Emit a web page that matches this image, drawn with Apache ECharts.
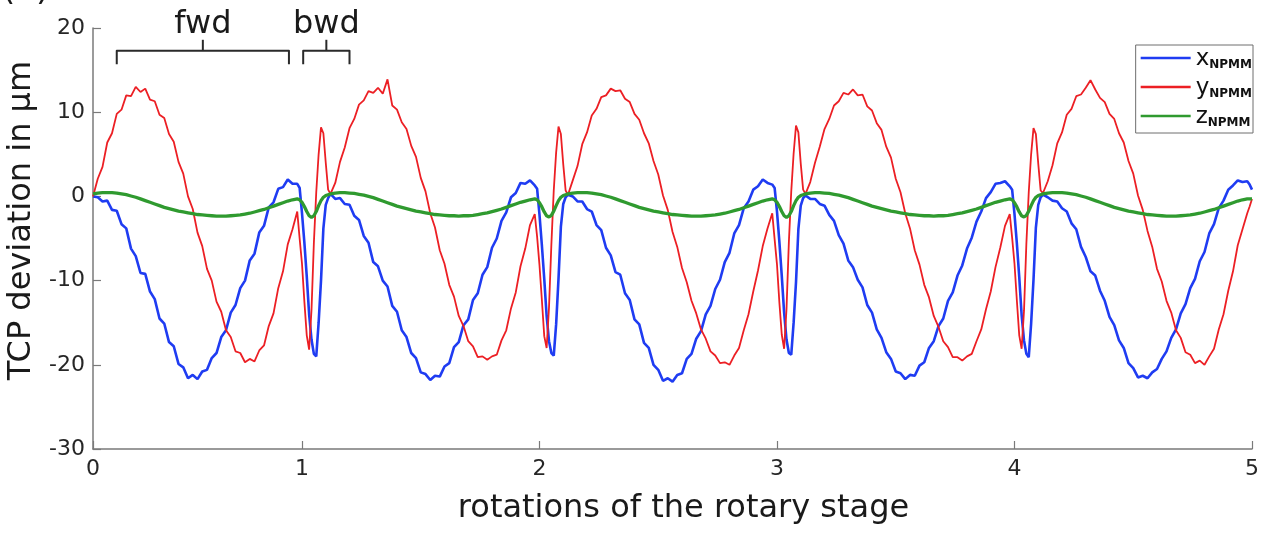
<!DOCTYPE html>
<html>
<head>
<meta charset="utf-8">
<script src="https://cdn.jsdelivr.net/npm/echarts@6/dist/echarts.min.js"></script>
<style>
html,body{margin:0;padding:0;background:#ffffff;}
#chart{width:1265px;height:533px;}
</style>
</head>
<body>
<div id="chart"></div>
<script>
// ---------- data ----------
// start of each rotation cycle
const cycleStarts = [0, 1, 2, 3, 4];
// sample positions inside a cycle (forward part, backward dip, end of last cycle)
const phaseFwd = [0.12,0.14,0.16,0.18,0.20,0.22,0.24,0.26,0.28,0.30,0.32,0.34,0.36,0.38,0.40,0.42,0.44,0.46,0.48,0.50,0.52,0.54,0.56,0.58,0.60,0.62,0.64,0.66,0.68,0.70,0.72,0.74,0.76,0.78,0.80,0.82,0.84,0.86,0.88,0.90,0.92,0.94,0.96,0.98];
const phaseDip = [0.99,1.00,1.01,1.02,1.03,1.04,1.05,1.06,1.07,1.08,1.09,1.10,1.11];
const phaseEnd = [0.99,1.00];

const xAxisMin = 0.12;
const xAxisMax = 5;
const xTickLabels = ['0','1','2','3','4','5'];
const yTicks = [-30, -20, -10, 0, 10, 20];

// x_NPMM (blue)
const xNPMM = [
  // cycle 0
  0,-0.1,-0.6,-0.5,-1.6,-1.7,-3.3,-3.8,-6.2,-7.1,-9.1,-9.2,-11.3,-12.2,-14.5,-15.1,-17.3,-17.8,-19.9,-20.3,-21.6,-21.2,-21.7,-20.8,-20.6,-19.2,-18.6,-16.7,-15.9,-13.8,-12.9,-10.9,-10.0,-7.6,-6.8,-4.3,-3.5,-1.3,-0.7,0.9,1.1,2.0,1.5,1.5,
  1.0,-2.0,-5.5,-9.5,-14.0,-17.0,-18.7,-19.0,-15.0,-10.0,-3.8,-1.0,-0.2,
  // cycle 1
  0.3,-0.3,-0.2,-0.9,-1.0,-2.3,-2.8,-4.7,-5.5,-7.8,-8.3,-10.0,-10.7,-13.0,-13.7,-15.9,-16.7,-18.6,-19.2,-20.9,-21.1,-21.8,-21.3,-21.4,-20.2,-19.8,-17.9,-17.3,-15.3,-14.6,-12.3,-11.5,-9.3,-8.4,-6.1,-5.0,-2.9,-1.9,-0.1,0.4,1.6,1.5,1.9,1.3,
  0.9,-2.2,-5.8,-9.8,-14.2,-17.2,-18.6,-18.9,-15.2,-9.8,-3.6,-0.9,-0.1,
  // cycle 2
  0.2,0.0,-0.6,-0.6,-1.5,-1.8,-3.4,-4.0,-6.1,-7.0,-9.0,-9.3,-11.5,-12.3,-14.6,-15.2,-17.4,-18.0,-20.0,-20.6,-21.9,-21.6,-22.0,-21.2,-21.0,-19.3,-18.7,-16.9,-16.0,-14.0,-13.0,-11.0,-9.9,-7.8,-6.7,-4.4,-3.4,-1.4,-0.6,0.8,1.2,2.0,1.6,1.4,
  1.0,-1.8,-5.4,-9.4,-13.8,-17.0,-18.6,-18.8,-15.0,-10.2,-3.9,-1.1,-0.2,
  // cycle 3
  0.1,-0.3,-0.3,-0.9,-1.1,-2.2,-2.9,-4.6,-5.6,-7.6,-8.4,-9.9,-10.8,-12.9,-13.8,-15.8,-16.8,-18.5,-19.3,-20.8,-21.0,-21.7,-21.2,-21.3,-20.1,-19.7,-18.0,-17.2,-15.4,-14.5,-12.4,-11.4,-9.4,-8.2,-6.2,-4.9,-3.0,-1.8,-0.2,0.5,1.5,1.6,1.8,1.2,
  0.8,-2.1,-5.6,-9.6,-14.1,-17.1,-18.7,-19.1,-15.1,-9.9,-3.7,-1.0,-0.1,
  // cycle 4
  0.2,-0.1,-0.5,-0.6,-1.4,-1.8,-3.2,-3.9,-6.0,-7.2,-8.9,-9.4,-11.2,-12.4,-14.3,-15.3,-17.1,-18.0,-19.8,-20.4,-21.5,-21.3,-21.6,-20.9,-20.5,-19.3,-18.4,-16.8,-15.8,-13.9,-12.8,-10.9,-9.8,-7.7,-6.6,-4.4,-3.3,-1.4,-0.5,0.8,1.3,1.9,1.7,1.8,
  1.4,0.8
];

// y_NPMM (red)
const yNPMM = [
  // cycle 0
  0.0,2.1,3.5,6.4,7.5,9.8,10.3,12.0,11.9,13.0,12.4,12.8,11.5,11.3,9.7,9.3,7.4,6.5,4.1,2.7,0.0,-1.5,-4.3,-5.9,-8.6,-10.0,-12.5,-13.7,-15.9,-16.7,-18.4,-18.6,-19.7,-19.3,-19.6,-18.3,-17.7,-15.4,-13.9,-10.9,-8.9,-5.7,-3.9,-1.8,
  -5.0,-8.0,-12.5,-16.5,-18.2,-13.5,-5.5,0.5,5.0,8.2,7.5,4.0,0.8,
  // cycle 1
  0.3,1.6,4.1,5.8,8.1,9.2,10.9,11.4,12.5,12.3,12.9,12.2,13.9,10.8,10.3,8.8,8.0,6.0,4.7,2.2,0.6,-2.0,-3.7,-6.4,-8.0,-10.5,-11.9,-14.2,-15.4,-17.2,-17.8,-19.1,-19.0,-19.4,-19.0,-18.8,-17.1,-15.9,-13.3,-11.4,-8.3,-6.2,-3.4,-2.1,
  -4.8,-8.2,-12.3,-16.6,-18.0,-13.2,-5.7,0.7,5.2,8.3,7.4,3.8,0.7,
  // cycle 2
  0.2,1.9,3.6,6.2,7.6,9.6,10.4,11.8,12.0,12.8,12.5,12.6,11.6,11.2,9.8,9.1,7.5,6.3,4.2,2.6,0.1,-1.6,-4.2,-6.0,-8.5,-10.2,-12.4,-13.9,-15.8,-16.9,-18.4,-18.9,-19.8,-19.7,-20.0,-18.9,-18.0,-15.9,-14.0,-11.3,-8.8,-5.9,-3.8,-2.0,
  -5.1,-8.1,-12.6,-16.4,-18.1,-13.4,-5.4,0.6,5.1,8.4,7.6,3.9,0.8,
  // cycle 3
  0.3,1.7,4.0,5.9,8.0,9.2,10.8,11.3,12.3,12.1,12.7,12.0,12.1,10.7,10.2,8.7,7.9,5.9,4.6,2.1,0.5,-2.0,-3.8,-6.4,-8.1,-10.5,-12.0,-14.2,-15.5,-17.2,-17.9,-19.1,-19.1,-19.5,-19.0,-18.7,-17.2,-15.8,-13.4,-11.3,-8.4,-6.1,-3.5,-2.1,
  -4.9,-8.0,-12.4,-16.5,-18.1,-13.6,-5.6,0.5,5.0,8.1,7.4,3.9,0.7,
  // cycle 4
  0.4,1.8,3.7,6.3,7.6,9.7,10.4,11.9,12.1,12.9,13.8,12.7,11.7,11.2,9.8,9.2,7.5,6.4,4.2,2.7,0.1,-1.6,-4.1,-6.0,-8.6,-10.1,-12.4,-13.8,-15.9,-16.8,-18.5,-18.8,-19.8,-19.5,-20.0,-19.0,-18.1,-15.8,-14.0,-11.2,-8.9,-5.8,-3.9,-2.0,
  -1.2,-0.3
];

// z_NPMM (green)
const zNPMM = [
  // cycle 0
  0.3,0.4,0.45,0.45,0.45,0.4,0.3,0.2,0.05,-0.1,-0.3,-0.5,-0.7,-0.9,-1.1,-1.3,-1.45,-1.6,-1.75,-1.85,-1.95,-2.05,-2.15,-2.2,-2.25,-2.3,-2.35,-2.35,-2.35,-2.3,-2.25,-2.2,-2.1,-2.0,-1.85,-1.7,-1.55,-1.35,-1.15,-0.95,-0.75,-0.55,-0.4,-0.3,
  -0.4,-0.7,-1.2,-1.8,-2.3,-2.5,-2.3,-1.8,-1.1,-0.5,-0.1,0.1,0.2,
  // cycle 1
  0.3,0.4,0.45,0.45,0.4,0.35,0.25,0.15,0.0,-0.15,-0.35,-0.55,-0.75,-0.95,-1.15,-1.3,-1.45,-1.6,-1.75,-1.85,-1.95,-2.05,-2.15,-2.2,-2.25,-2.3,-2.3,-2.35,-2.3,-2.3,-2.25,-2.15,-2.05,-1.95,-1.8,-1.65,-1.5,-1.3,-1.1,-0.9,-0.7,-0.55,-0.4,-0.3,
  -0.4,-0.75,-1.25,-1.85,-2.3,-2.45,-2.25,-1.75,-1.1,-0.5,-0.1,0.1,0.2,
  // cycle 2
  0.3,0.4,0.45,0.45,0.45,0.4,0.3,0.2,0.05,-0.1,-0.3,-0.5,-0.7,-0.9,-1.1,-1.3,-1.45,-1.6,-1.75,-1.85,-1.95,-2.05,-2.15,-2.2,-2.25,-2.3,-2.35,-2.35,-2.35,-2.3,-2.25,-2.2,-2.1,-2.0,-1.85,-1.7,-1.55,-1.35,-1.15,-0.95,-0.75,-0.55,-0.4,-0.3,
  -0.4,-0.7,-1.2,-1.8,-2.3,-2.5,-2.3,-1.8,-1.1,-0.5,-0.1,0.1,0.2,
  // cycle 3
  0.3,0.4,0.45,0.45,0.4,0.35,0.25,0.15,0.0,-0.15,-0.35,-0.55,-0.75,-0.95,-1.15,-1.3,-1.45,-1.6,-1.75,-1.85,-1.95,-2.05,-2.15,-2.2,-2.25,-2.3,-2.3,-2.35,-2.3,-2.3,-2.25,-2.15,-2.05,-1.95,-1.8,-1.65,-1.5,-1.3,-1.1,-0.9,-0.7,-0.55,-0.4,-0.3,
  -0.4,-0.75,-1.25,-1.85,-2.3,-2.45,-2.25,-1.75,-1.1,-0.5,-0.1,0.1,0.2,
  // cycle 4
  0.3,0.4,0.45,0.45,0.45,0.4,0.3,0.2,0.05,-0.1,-0.3,-0.5,-0.7,-0.9,-1.1,-1.3,-1.45,-1.6,-1.75,-1.85,-1.95,-2.05,-2.15,-2.2,-2.25,-2.3,-2.35,-2.35,-2.35,-2.3,-2.25,-2.2,-2.1,-2.0,-1.85,-1.7,-1.55,-1.35,-1.15,-0.95,-0.75,-0.55,-0.4,-0.3,
  -0.3,-0.3
];

const seriesNames = ['x', 'y', 'z'];
const seriesColors = ['#1f3cf2', '#ec1f24', '#2f9a2f'];

// annotation brackets (x in rotations, levels in µm)
const bracketSpans = [
  {label: 'fwd', from: 0.22, to: 0.945},
  {label: 'bwd', from: 1.005, to: 1.2}
];
const bracketLevels = {hook: 15.7, bar: 17.3, tip: 18.6, text: 20.4};

// ---------- build ----------
const xs = [];
cycleStarts.forEach(function (k, i) {
  const ph = phaseFwd.concat(i < cycleStarts.length - 1 ? phaseDip : phaseEnd);
  ph.forEach(function (p) { xs.push(Math.round((k + p) * 100) / 100); });
});
function pairs(vals) { return vals.map(function (v, i) { return [xs[i], v]; }); }
const seriesValues = [xNPMM, yNPMM, zNPMM];
const lineWidths = [2.6, 1.8, 3.3];

const FONT = '"DejaVu Sans", "Liberation Sans", sans-serif';
const chart = echarts.init(document.getElementById('chart'), null, {renderer: 'canvas'});

const option = {
  animation: false,
  backgroundColor: '#ffffff',
  grid: {left: 93, right: 13, top: 28, bottom: 84, containLabel: false, outerBoundsMode: 'none'},
  xAxis: {
    type: 'value', min: xAxisMin, max: xAxisMax, minInterval: 1, maxInterval: 1,
    name: 'rotations of the rotary stage', nameLocation: 'middle', nameGap: 44,
    nameTextStyle: {fontFamily: FONT, fontSize: 32, color: '#1a1a1a', padding: [0, 0, 0, 22]},
    axisLine: {show: true, onZero: false, lineStyle: {color: '#7a7a7a', width: 1.5}},
    axisTick: {show: true, inside: true, length: 8, lineStyle: {color: '#7a7a7a', width: 1.2}},
    axisLabel: {fontFamily: FONT, fontSize: 22, color: '#262626', margin: 9,
      formatter: function (v) { return v < 0.5 ? xTickLabels[0] : xTickLabels[Math.round(v)]; }},
    splitLine: {show: false}
  },
  yAxis: {
    type: 'value', min: yTicks[0], max: yTicks[yTicks.length - 1], interval: 10,
    name: 'TCP deviation in µm', nameLocation: 'middle', nameGap: 52,
    nameTextStyle: {fontFamily: FONT, fontSize: 32, color: '#1a1a1a', padding: [0, 0, 0, 36]},
    axisLine: {show: true, onZero: false, lineStyle: {color: '#7a7a7a', width: 1.5}},
    axisTick: {show: true, inside: true, length: 8, lineStyle: {color: '#7a7a7a', width: 1.2}},
    axisLabel: {fontFamily: FONT, fontSize: 22, color: '#262626', margin: 8},
    splitLine: {show: false}
  },
  legend: {
    orient: 'vertical', right: 12, top: 45,
    icon: 'rect', itemWidth: 50, itemHeight: 2.5, itemGap: 6,
    backgroundColor: '#ffffff', borderColor: '#6e6e6e', borderWidth: 1,
    padding: [3, 1, 4, 5],
    data: seriesNames,
    formatter: function (n) { return '{m|' + n + '}{s|NPMM}'; },
    textStyle: {
      rich: {
        m: {fontFamily: FONT, fontSize: 23, color: '#111', lineHeight: 26, verticalAlign: 'bottom'},
        s: {fontFamily: FONT, fontSize: 12, fontWeight: 'bold', color: '#111', lineHeight: 11, verticalAlign: 'bottom'}
      }
    }
  },
  series: seriesNames.map(function (n, i) {
    return {
      name: n, type: 'line', data: pairs(seriesValues[i]),
      showSymbol: false, symbol: 'none', smooth: false,
      lineStyle: {color: seriesColors[i], width: lineWidths[i]},
      itemStyle: {color: seriesColors[i]},
      emphasis: {disabled: true}, z: 2 + i
    };
  })
};
chart.setOption(option);

// annotations placed through the chart's own coordinate system
const g = [];
bracketSpans.forEach(function (b) {
  const pA = chart.convertToPixel({gridIndex: 0}, [b.from, bracketLevels.hook]);
  const pB = chart.convertToPixel({gridIndex: 0}, [b.to, bracketLevels.bar]);
  const mid = chart.convertToPixel({gridIndex: 0}, [(b.from + b.to) / 2, bracketLevels.tip]);
  const txt = chart.convertToPixel({gridIndex: 0}, [(b.from + b.to) / 2, bracketLevels.text]);
  g.push({type: 'polyline', z: 100, shape: {points: [[pA[0], pA[1]], [pA[0], pB[1]], [pB[0], pB[1]], [pB[0], pA[1]]]},
    style: {stroke: '#2a2a2a', lineWidth: 2, fill: null, lineJoin: 'round'}});
  g.push({type: 'line', z: 100, shape: {x1: mid[0], y1: pB[1], x2: mid[0], y2: mid[1]},
    style: {stroke: '#2a2a2a', lineWidth: 2}});
  g.push({type: 'text', z: 100, x: txt[0], y: txt[1],
    style: {text: b.label, fontFamily: FONT, fontSize: 32, fill: '#1a1a1a', align: 'center', verticalAlign: 'middle'}});
});
g.push({type: 'text', z: 100, x: 2, y: -9,
  style: {text: '(a)', fontFamily: FONT, fontSize: 34, fill: '#1a1a1a', align: 'left', verticalAlign: 'middle'}});
chart.setOption({graphic: g});
</script>
</body>
</html>
